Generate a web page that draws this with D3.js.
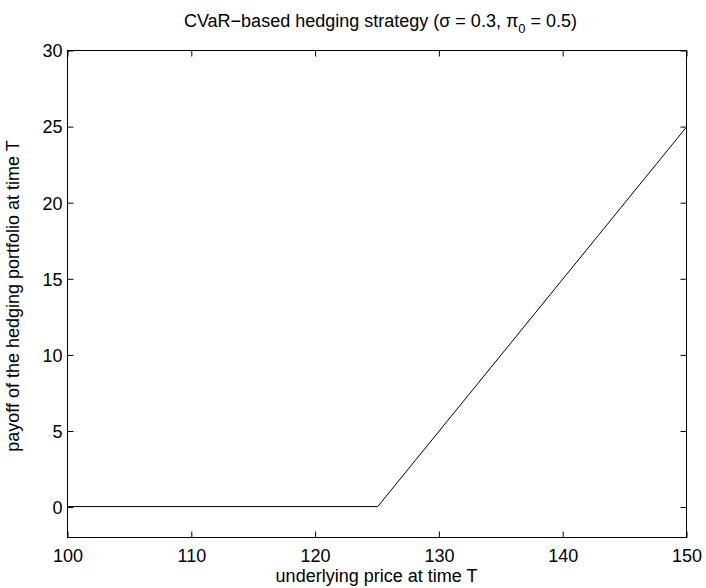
<!DOCTYPE html>
<html><head><meta charset="utf-8">
<script src="https://cdn.jsdelivr.net/npm/d3@7"></script>
<style>body{margin:0;background:#fff}svg{display:block}text{font-family:"Liberation Sans",Arial,sans-serif}</style>
</head><body>
<script>
const priceX = [100, 125.1, 150];
const payoffY = [0, 0, 24.9];
const xTicks = [100, 110, 120, 130, 140, 150];
const yTicks = [0, 5, 10, 15, 20, 25, 30];

const W = 706, H = 588;
const m = {l: 67, r: 20, t: 50, b: 51};
const svg = d3.select("body").append("svg").attr("width", W).attr("height", H);
const x = d3.scaleLinear().domain([100, 150]).range([m.l, W - m.r]);
const y = d3.scaleLinear().domain([-2, 30]).range([H - m.b, m.t]);
const fs = 18, tl = 6;

// box
svg.append("rect").attr("x", m.l + 0.5).attr("y", m.t + 0.5)
  .attr("width", W - m.r - m.l).attr("height", H - m.b - m.t)
  .attr("fill", "none").attr("stroke", "#000").attr("stroke-width", 1);

// axes with inward ticks
const gx = svg.append("g").attr("transform", `translate(0.5,${H - m.b + 0.5})`)
  .call(d3.axisBottom(x).tickValues(xTicks).tickSizeInner(-tl).tickSizeOuter(0).tickFormat(d3.format("d")));
const gxt = svg.append("g").attr("transform", `translate(0.5,${m.t + 0.5})`)
  .call(d3.axisTop(x).tickValues(xTicks).tickSizeInner(-tl).tickSizeOuter(0).tickFormat(""));
const gy = svg.append("g").attr("transform", `translate(${m.l + 0.5},0.5)`)
  .call(d3.axisLeft(y).tickValues(yTicks).tickSizeInner(-tl).tickSizeOuter(0).tickFormat(d3.format("d")));
const gyr = svg.append("g").attr("transform", `translate(${W - m.r + 0.5},0.5)`)
  .call(d3.axisRight(y).tickValues(yTicks).tickSizeInner(-tl).tickSizeOuter(0).tickFormat(""));
[gx, gxt, gy, gyr].forEach(g => {
  g.select(".domain").remove();
  g.selectAll("line").attr("stroke", "#000");
  g.selectAll("text").attr("font-size", fs).attr("fill", "#000").attr("font-family", '"Liberation Sans",Arial,sans-serif');
});
gx.selectAll("text").attr("dy", null).attr("y", 24);
gy.selectAll("text").attr("x", -5).attr("dy", "0.35em");

// line
const line = d3.line().x((d, i) => x(priceX[i])).y((d, i) => y(payoffY[i]));
svg.append("path").datum(priceX).attr("d", line)
  .attr("fill", "none").attr("stroke", "#000").attr("stroke-width", 1);

// title
const t = svg.append("text").attr("x", (m.l + W - m.r) / 2 + 4).attr("y", 27)
  .attr("text-anchor", "middle").attr("font-size", fs);
t.append("tspan").text("CVaR\u2212based hedging strategy (\u03c3 = 0.3, \u03c0");
t.append("tspan").attr("font-size", 13).attr("dy", 6).text("0");
t.append("tspan").attr("dy", -6).text(" = 0.5)");

svg.append("text").attr("x", (m.l + W - m.r) / 2).attr("y", 582)
  .attr("text-anchor", "middle").attr("font-size", fs).text("underlying price at time T");
svg.append("text").attr("transform", `translate(19,296) rotate(-90)`)
  .attr("text-anchor", "middle").attr("font-size", fs).text("payoff of the hedging portfolio at time T");
</script>
</body></html>
